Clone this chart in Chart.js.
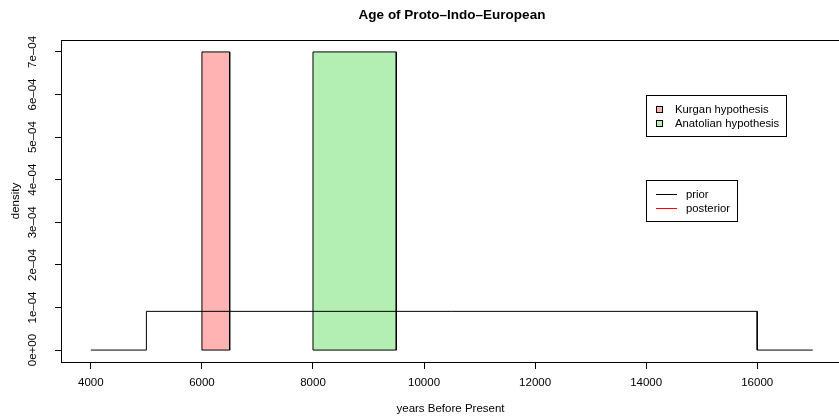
<!DOCTYPE html>
<html>
<head>
<meta charset="utf-8">
<script src="https://cdn.jsdelivr.net/npm/chart.js@4.4.1/dist/chart.umd.min.js"></script>
<style>
  html, body { margin: 0; padding: 0; background: #fff; }
  #wrap { width: 839px; height: 417px; }
</style>
</head>
<body>
<div id="wrap"><canvas id="chart" width="839" height="417"></canvas></div>
<script>
// data
var mainTitle = "Age of Proto\u2013Indo\u2013European";
var xTicks = [4000, 6000, 8000, 10000, 12000, 14000, 16000];
var yTicks = [0, 1e-4, 2e-4, 3e-4, 4e-4, 5e-4, 6e-4, 7e-4];
var yTickLabels = ["0e+00", "1e\u201304", "2e\u201304", "3e\u201304", "4e\u201304", "5e\u201304", "6e\u201304", "7e\u201304"];
var kurganYears = [6000, 6500];
var anatolianYears = [8000, 9500];
var hypothesisDensity = 7e-4;
var priorYears = [4000, 5000, 5000, 16000, 16000, 17000];
var priorDensity = [0, 0, 9.09e-5, 9.09e-5, 0, 0];

var kurganColor = "#FFB3B3";
var anatolianColor = "#B3EFB3";
var font = "'Liberation Sans', Arial, sans-serif";

Chart.defaults.color = "#000";
Chart.defaults.font.family = font;

// three sides of a box, filled down to zero
function rect(years, h) {
  return [
    { x: years[0], y: 0 },
    { x: years[0], y: h },
    { x: years[1], y: h },
    { x: years[1], y: 0 },
  ];
}

// bottom edges of both boxes, with a gap between them
var baseEdges = [
  { x: kurganYears[0], y: 0 },
  { x: kurganYears[1], y: 0 },
  { x: (kurganYears[1] + anatolianYears[0]) / 2, y: null },
  { x: anatolianYears[0], y: 0 },
  { x: anatolianYears[1], y: 0 },
];

var priorPoints = priorYears.map(function (x, i) {
  return { x: x, y: priorDensity[i] };
});

function drawLegend(ctx, box, items) {
  ctx.strokeStyle = "#000";
  ctx.lineWidth = 1;
  ctx.strokeRect(box.x + 0.5, box.y + 0.5, box.w, box.h);
  ctx.font = "11.3px " + font;
  ctx.textAlign = "left";
  ctx.textBaseline = "middle";
  items.forEach(function (it) {
    if (it.fill) {
      ctx.fillStyle = it.fill;
      ctx.fillRect(box.mx, it.y - 3, 7, 7);
      ctx.strokeStyle = "#000";
      ctx.strokeRect(box.mx + 0.5, it.y - 2.5, 6, 6);
    } else {
      ctx.strokeStyle = it.line;
      ctx.beginPath();
      ctx.moveTo(box.mx, it.y + 0.5);
      ctx.lineTo(box.mx + 21, it.y + 0.5);
      ctx.stroke();
    }
    ctx.fillStyle = "#000";
    ctx.fillText(it.text, box.tx, it.y + 0.5);
  });
}

var rFrame = {
  id: "rFrame",
  afterDatasetsDraw: function (chart) {
    var ctx = chart.ctx;
    var a = chart.chartArea;
    ctx.save();
    ctx.strokeStyle = "#000";
    ctx.lineWidth = 1;
    ctx.strokeRect(Math.round(a.left) - 0.5, Math.round(a.top) + 0.5, a.right - a.left + 10, Math.round(a.bottom - a.top));

    ctx.font = "bold 13.5px " + font;
    ctx.fillStyle = "#000";
    ctx.textAlign = "center";
    ctx.textBaseline = "alphabetic";
    ctx.fillText(mainTitle, 452, 18.5);

    drawLegend(ctx, { x: 646, y: 95, w: 140, h: 41, mx: 656, tx: 675 }, [
      { text: "Kurgan hypothesis", fill: kurganColor, y: 109 },
      { text: "Anatolian hypothesis", fill: anatolianColor, y: 123 },
    ]);
    drawLegend(ctx, { x: 646, y: 180, w: 91, h: 41, mx: 656, tx: 686 }, [
      { text: "prior", line: "#000", y: 194 },
      { text: "posterior", line: "#FF0000", y: 208 },
    ]);
    ctx.restore();
  },
};

var ctx = document.getElementById("chart").getContext("2d");
var myChart = new Chart(ctx, {
  type: "line",
  data: {
    datasets: [
      {
        label: "prior",
        data: priorPoints,
        borderColor: "#000",
        borderWidth: 1,
        pointRadius: 0,
        tension: 0,
        fill: false,
      },
      {
        label: "base",
        data: baseEdges,
        borderColor: "#000",
        borderWidth: 1,
        pointRadius: 0,
        spanGaps: false,
        fill: false,
      },
      {
        label: "Kurgan hypothesis",
        data: rect(kurganYears, hypothesisDensity),
        borderColor: "#000",
        borderWidth: 1,
        backgroundColor: kurganColor,
        pointRadius: 0,
        tension: 0,
        fill: "origin",
      },
      {
        label: "Anatolian hypothesis",
        data: rect(anatolianYears, hypothesisDensity),
        borderColor: "#000",
        borderWidth: 1,
        backgroundColor: anatolianColor,
        pointRadius: 0,
        tension: 0,
        fill: "origin",
      },
    ],
  },
  options: {
    responsive: false,
    animation: false,
    events: [],
    layout: { padding: { top: 40, left: 0, right: 0, bottom: 0 } },
    plugins: {
      legend: { display: false },
      title: { display: false },
      tooltip: { enabled: false },
    },
    scales: {
      x: {
        type: "linear",
        min: 3480,
        max: 17473,
        afterBuildTicks: function (s) {
          s.ticks = xTicks.map(function (v) { return { value: v }; });
        },
        afterFit: function (s) { s.height = 55; },
        ticks: {
          autoSkip: false,
          maxRotation: 0,
          padding: 6.5,
          font: { size: 11.5 },
          callback: function (v) { return String(v); },
        },
        grid: { drawOnChartArea: false, color: "#000", tickLength: 7, lineWidth: 1 },
        border: { display: false },
        title: {
          display: true,
          text: "years Before Present",
          font: { size: 11.5 },
          padding: { top: 0, bottom: 1 },
        },
      },
      y: {
        type: "linear",
        min: -2.8e-5,
        max: 7.28e-4,
        afterBuildTicks: function (s) {
          s.ticks = yTicks.map(function (v) { return { value: v }; });
        },
        afterFit: function (s) { s.width = 62; },
        ticks: {
          autoSkip: false,
          minRotation: 90,
          maxRotation: 90,
          crossAlign: "center",
          padding: 6.5,
          font: { size: 11.5 },
          callback: function (v, i) { return yTickLabels[i]; },
        },
        grid: { drawOnChartArea: false, color: "#000", tickLength: 7, lineWidth: 1 },
        border: { display: false },
        title: {
          display: true,
          text: "density",
          font: { size: 11.5 },
          padding: { top: 9, bottom: 0 },
        },
      },
    },
  },
  plugins: [rFrame],
});
</script>
</body>
</html>
